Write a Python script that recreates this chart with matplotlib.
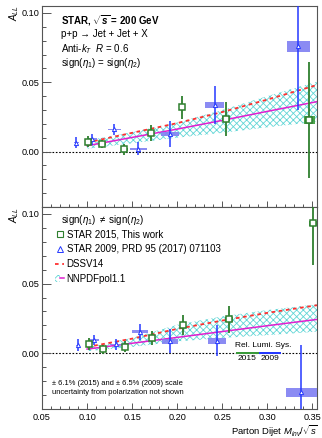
import matplotlib
matplotlib.use("Agg")
import matplotlib.pyplot as plt
import numpy as np
from matplotlib.lines import Line2D
from matplotlib.patches import Patch
from matplotlib.legend_handler import HandlerTuple
from matplotlib.ticker import MultipleLocator

plt.rcParams['font.family'] = ['Liberation Sans', 'DejaVu Sans']
plt.rcParams['mathtext.fontset'] = 'custom'
plt.rcParams['mathtext.rm'] = 'Liberation Sans'
plt.rcParams['mathtext.it'] = 'Liberation Sans:italic'
plt.rcParams['mathtext.bf'] = 'Liberation Sans:bold'
plt.rcParams['mathtext.bfit'] = 'Liberation Sans:bold:italic'
plt.rcParams['hatch.linewidth'] = 0.6

# ---------------- same-sign topology (upper panel) ----------------
ss15_x = [0.1015, 0.1170, 0.1415, 0.1708, 0.2052, 0.2545, 0.3463]
ss15_y = [0.0072, 0.0053, 0.0015, 0.0133, 0.0318, 0.0236, 0.0229]
ss15_err = [0.0040, 0.0030, 0.0040, 0.0060, 0.0083, 0.0124, 0.0420]
ss15_sys = [0.0008, 0.0008, 0.0008, 0.0010, 0.0012, 0.0018, 0.0030]
ss15_dx = [0.0035, 0.0035, 0.0035, 0.0035, 0.0035, 0.0045, 0.0060]

ss09_x = [0.0881, 0.1060, 0.1303, 0.1570, 0.1915, 0.2415, 0.3340]
ss09_y = [0.0065, 0.0090, 0.0160, 0.0020, 0.0128, 0.0337, 0.0759]
ss09_err = [0.0042, 0.0040, 0.0040, 0.0048, 0.0096, 0.0137, 0.0460]
ss09_sys = [0.0004, 0.0005, 0.0006, 0.0008, 0.0015, 0.0024, 0.0038]
ss09_dx = [0.0025, 0.0050, 0.0070, 0.0090, 0.0100, 0.0106, 0.0128]

# ---------------- opposite-sign topology (lower panel) ----------------
os15_x = [0.1022, 0.1181, 0.1422, 0.1719, 0.2063, 0.2570, 0.3508]
os15_y = [0.0066, 0.0029, 0.0047, 0.0111, 0.0205, 0.0243, 0.0933]
os15_err = [0.0044, 0.0033, 0.0040, 0.0048, 0.0071, 0.0098, 0.0300]
os15_sys = [0.0008, 0.0008, 0.0008, 0.0010, 0.0012, 0.0018, 0.0018]
os15_dx = [0.0035, 0.0035, 0.0035, 0.0035, 0.0035, 0.0045, 0.0050]

os09_x = [0.0897, 0.1078, 0.1319, 0.1589, 0.1922, 0.2444, 0.3378]
os09_y = [0.0059, 0.0095, 0.0064, 0.0154, 0.0085, 0.0090, -0.0281]
os09_err = [0.0045, 0.0036, 0.0040, 0.0056, 0.0086, 0.0110, 0.0340]
os09_sys = [0.0004, 0.0005, 0.0006, 0.0010, 0.0015, 0.0021, 0.0034]
os09_dx = [0.0025, 0.0050, 0.0070, 0.0092, 0.0090, 0.0100, 0.0167]

# ---------------- theory predictions ----------------
th_x = [0.100, 0.150, 0.200, 0.250, 0.300, 0.355]
ss_dssv = [0.0065, 0.0135, 0.0205, 0.0285, 0.0375, 0.0480]
ss_nnpdf = [0.0042, 0.0102, 0.0162, 0.0225, 0.0290, 0.0360]
ss_nnpdf_lo = [0.0020, 0.0060, 0.0100, 0.0135, 0.0175, 0.0215]
ss_nnpdf_hi = [0.0080, 0.0140, 0.0210, 0.0300, 0.0400, 0.0505]

os_dssv = [0.0045, 0.0105, 0.0175, 0.0235, 0.0290, 0.0345]
os_nnpdf = [0.0030, 0.0072, 0.0114, 0.0156, 0.0198, 0.0243]
os_nnpdf_lo = [0.0015, 0.0045, 0.0085, 0.0110, 0.0130, 0.0155]
os_nnpdf_hi = [0.0045, 0.0110, 0.0205, 0.0265, 0.0310, 0.0352]

# relative luminosity systematic bars drawn on the zero line
lumi_x0 = [0.2652, 0.2904]
lumi_x1 = [0.2904, 0.3152]
lumi_half = 0.0006

GREEN = '#2e7f2e'
GREEN_BOX = '#3a9a3a'
BLUE = '#2438ff'
BLUE_BOX = '#7f7ff2'
RED = '#ff3030'
PINK = '#e01fd0'
CYAN = '#62d6d6'
SPINE = '#555555'

fig = plt.figure(figsize=(3.22, 4.38), dpi=100)
ax_top = fig.add_axes([0.1304, 0.5274, 0.854, 0.4589])
ax_bot = fig.add_axes([0.1304, 0.0662, 0.854, 0.4612])


def draw_panel(ax, x15, y15, e15, s15, dx15, x09, y09, e09, s09, dx09,
               dssv, nnpdf, lo, hi):
    ax.fill_between(th_x, lo, hi, facecolor='none', edgecolor=CYAN,
                    hatch='xxxxx', linewidth=0, zorder=1)
    ax.plot(th_x, dssv, color=RED, lw=1.3, dashes=(2.0, 2.0), zorder=2)
    ax.plot(th_x, nnpdf, color=PINK, lw=1.1, zorder=2)
    ax.axhline(0, color='black', lw=0.8, ls=(0, (1.5, 1.5)), zorder=1.5)
    # systematic boxes
    ax.bar(x09, [2 * s for s in s09], bottom=[y - s for y, s in zip(y09, s09)],
           width=[2 * d for d in dx09], color=BLUE_BOX, alpha=0.9,
           linewidth=0, zorder=3)
    ax.bar(x15, [2 * s for s in s15], bottom=[y - s for y, s in zip(y15, s15)],
           width=[2 * d for d in dx15], color=GREEN_BOX, alpha=0.9,
           linewidth=0, zorder=3)
    # statistical errors
    ax.errorbar(x09, y09, yerr=e09, fmt='none', ecolor=BLUE, elinewidth=1.1,
                capsize=0, zorder=4)
    ax.errorbar(x15, y15, yerr=e15, fmt='none', ecolor=GREEN, elinewidth=1.3,
                capsize=0, zorder=4)
    ax.plot(x09, y09, ls='none', marker='^', ms=3.0, mfc='white', mec=BLUE,
            mew=0.7, zorder=5)
    ax.plot(x15, y15, ls='none', marker='s', ms=4.0, mfc='white', mec=GREEN,
            mew=1.1, zorder=5)

    ax.set_xlim(0.05, 0.355)
    ax.set_ylim(-0.04, 0.105)
    ax.xaxis.set_major_locator(MultipleLocator(0.05))
    ax.xaxis.set_minor_locator(MultipleLocator(0.01))
    ax.yaxis.set_major_locator(MultipleLocator(0.05))
    ax.yaxis.set_minor_locator(MultipleLocator(0.01))
    ax.tick_params(axis='both', which='both', direction='in', colors=SPINE,
                   labelcolor='black', labelsize=6.6, width=0.7)
    ax.tick_params(axis='y', which='major', length=6.5, pad=2)
    ax.tick_params(axis='y', which='minor', length=3.2)
    ax.tick_params(axis='x', which='major', length=4.2, pad=3)
    ax.tick_params(axis='x', which='minor', length=2.2)
    ax.yaxis.set_major_formatter(plt.FuncFormatter(lambda v, p: f"{v:.2f}"))
    ax.xaxis.set_major_formatter(plt.FuncFormatter(lambda v, p: f"{v:.2f}"))
    for sp in ax.spines.values():
        sp.set_color(SPINE)
        sp.set_linewidth(0.8)


draw_panel(ax_top, ss15_x, ss15_y, ss15_err, ss15_sys, ss15_dx,
           ss09_x, ss09_y, ss09_err, ss09_sys, ss09_dx,
           ss_dssv, ss_nnpdf, ss_nnpdf_lo, ss_nnpdf_hi)
draw_panel(ax_bot, os15_x, os15_y, os15_err, os15_sys, os15_dx,
           os09_x, os09_y, os09_err, os09_sys, os09_dx,
           os_dssv, os_nnpdf, os_nnpdf_lo, os_nnpdf_hi)
ax_top.tick_params(axis='x', labelbottom=False)

# relative luminosity systematics
ax_bot.bar([0.5 * (a + b) for a, b in zip(lumi_x0, lumi_x1)],
           [2 * lumi_half] * 2, bottom=[-lumi_half] * 2,
           width=[b - a for a, b in zip(lumi_x0, lumi_x1)],
           color=[GREEN_BOX, BLUE], linewidth=0, zorder=3)
ax_bot.text(0.2644, 0.0054, 'Rel. Lumi. Sys.', fontsize=6.0, va='center',
            ha='left')
ax_bot.text(0.2778, -0.0036, '2015', fontsize=6.0, va='center', ha='center')
ax_bot.text(0.3033, -0.0036, '2009', fontsize=6.0, va='center', ha='center')

# annotations on the upper panel
tx = 0.069
ax_top.text(tx, 0.927, r'STAR, $\sqrt{\mathbfit{s}}$ = 200 GeV', transform=ax_top.transAxes,
            fontsize=7.0, fontweight='bold', va='center')
ax_top.text(tx, 0.861, 'p+p \u2192 Jet + Jet + X', transform=ax_top.transAxes,
            fontsize=7.0, va='center')
ax_top.text(tx, 0.786, r'Anti-$k_T$  $R$ = 0.6', transform=ax_top.transAxes,
            fontsize=7.0, va='center')
ax_top.text(tx, 0.716, r'sign($\eta_1$) = sign($\eta_2$)', transform=ax_top.transAxes,
            fontsize=7.0, va='center')

# lower panel header, legend and note
ax_bot.text(tx, 0.936, r'sign($\eta_1$) $\neq$ sign($\eta_2$)',
            transform=ax_bot.transAxes, fontsize=7.0, va='center')

h15 = Line2D([], [], ls='none', marker='s', ms=4.0, mfc='white', mec=GREEN, mew=0.8)
h09 = Line2D([], [], ls='none', marker='^', ms=3.8, mfc='white', mec=BLUE, mew=0.7)
hdssv = Line2D([], [], color=RED, lw=1.3, dashes=(2.0, 2.0))
hband = Patch(facecolor='none', edgecolor=CYAN, hatch='xxxx', linewidth=0)
hline = Line2D([], [], color=PINK, lw=1.1)
leg = ax_bot.legend([h15, h09, hdssv, (hband, hline)],
                    ['STAR 2015, This work', 'STAR 2009, PRD 95 (2017) 071103',
                     'DSSV14', 'NNPDFpol1.1'],
                    handler_map={tuple: HandlerTuple(ndivide=None, pad=0)},
                    loc='upper left', bbox_to_anchor=(0.039, 0.897),
                    borderaxespad=0, frameon=False, fontsize=7.0,
                    handlelength=1.0, handletextpad=0.24, labelspacing=0.48,
                    borderpad=0.2)

ax_bot.text(0.035, 0.124, '\u00b1 6.1% (2015) and \u00b1 6.5% (2009) scale',
            transform=ax_bot.transAxes, fontsize=5.4, va='center')
ax_bot.text(0.035, 0.083, 'uncertainty from polarization not shown',
            transform=ax_bot.transAxes, fontsize=5.4, va='center')

# axis titles
fig.text(0.043, 0.970, r'$A_{LL}$', rotation=90, fontsize=7, ha='center', va='center')
fig.text(0.043, 0.510, r'$A_{LL}$', rotation=90, fontsize=7, ha='center', va='center')
fig.text(0.9876, 0.016, r'Parton Dijet $M_{inv}/\sqrt{s}$', fontsize=6.8,
         ha='right', va='center')

fig.savefig('out.png', dpi=100)
